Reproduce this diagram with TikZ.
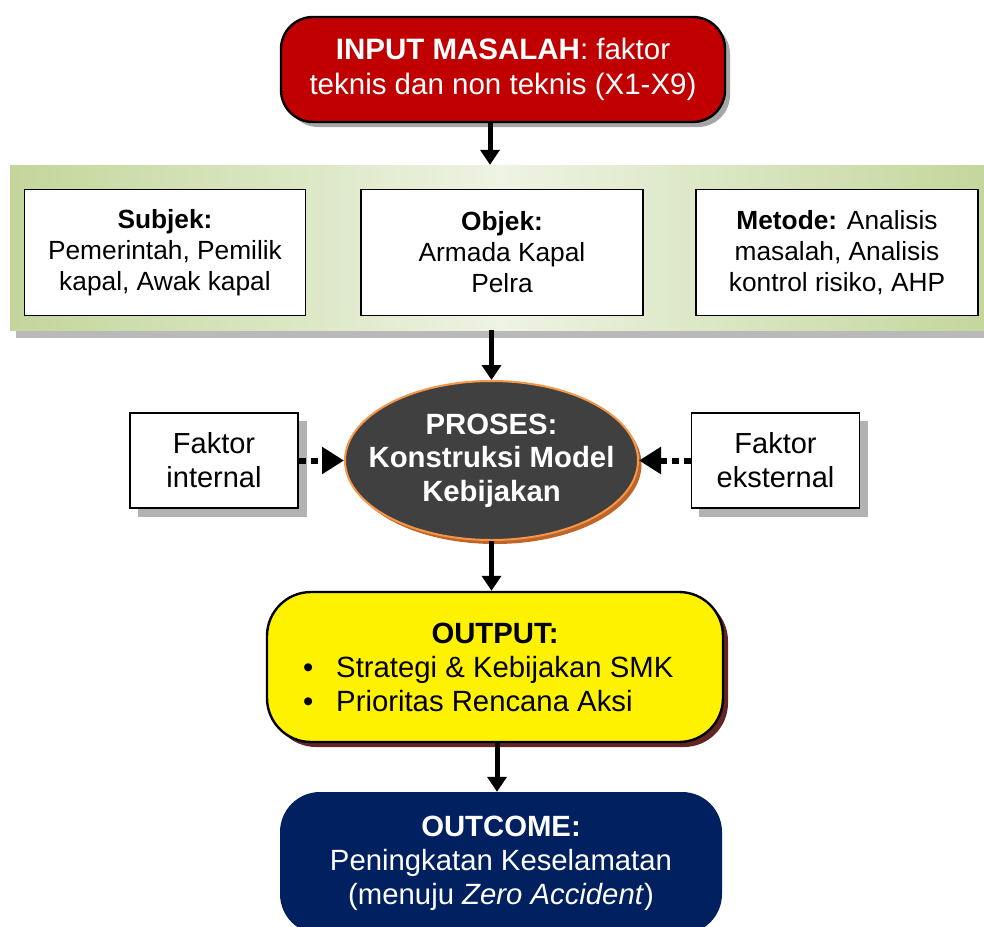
\documentclass[tikz,border=0pt]{standalone}
\usepackage{fontspec}
\setmainfont{Liberation Sans}
\usetikzlibrary{shapes.geometric,arrows.meta}
\definecolor{inred}{HTML}{C00000}
\definecolor{navy}{HTML}{002060}
\definecolor{bandedge}{HTML}{C3D69B}
\definecolor{bandmid}{HTML}{EEF3E3}
\definecolor{ringorange}{HTML}{F79646}
\definecolor{ringshadow}{HTML}{C0652A}
\definecolor{procfill}{HTML}{404040}
\definecolor{outshadow}{HTML}{632523}
\begin{document}
\begin{tikzpicture}[x=1pt,y=-1pt,
  txt/.style={align=center,inner sep=0pt,font=\fontsize{29.3}{34}\selectfont},
  rbox/.style={txt,rounded corners=32pt,line width=2.4pt,draw=black},
  wbox/.style={txt,draw=black,line width=1.2pt,fill=white,font=\fontsize{26.3}{31}\selectfont},
  arr/.style={line width=5pt,-{Triangle[width=19pt,length=15pt]}},
  darr/.style={line width=6pt,dash pattern=on 7pt off 5pt,-{Triangle[width=26pt,length=22pt]}}
]
\useasboundingbox (0,0) rectangle (984,926);

% problem input
\fill[gray!70,rounded corners=32pt] (286,22) rectangle (730,127);
\node[rbox,fill=inred,text=white,minimum width=444pt,minimum height=105pt,
      font=\fontsize{29.5}{35}\selectfont] (input) at (503,69.5)
  {\textbf{INPUT MASALAH}: faktor\\teknis dan non teknis (X1-X9)};

% green band holding subject, object and method
\fill[gray!55] (16,172) rectangle (1000,338);
\node[minimum width=984pt,minimum height=165pt,inner sep=0pt,
      left color=bandedge,right color=bandedge,middle color=bandmid] (band) at (502,247.5) {};
\node[wbox,minimum width=281pt,minimum height=126pt] (subj) at (165,252.5)
  {\textbf{Subjek:}\\Pemerintah, Pemilik\\kapal, Awak kapal};
\node[wbox,minimum width=282pt,minimum height=126pt] (obj) at (502,252.5)
  {\textbf{Objek:}\\Armada Kapal\\Pelra};
\node[wbox,minimum width=282pt,minimum height=126pt] (meth) at (837,252.5)
  {\textbf{Metode:} Analisis\\masalah, Analisis\\kontrol risiko, AHP};

% process ellipse and its label
\fill[ringshadow] (495,464.5) ellipse[x radius=146.5pt,y radius=79.5pt];
\node[ellipse,draw=ringorange,line width=2pt,fill=procfill,
      minimum width=293pt,minimum height=159pt,inner sep=0pt] (proc) at (491.5,460.5) {};
\node[txt,text=white,font=\bfseries\fontsize{29.3}{33.5}\selectfont] (proctext) at (proc.center)
  {PROSES:\\Konstruksi Model\\Kebijakan};

% internal and external factors
\fill[gray!60] (138,421) rectangle (307,517);
\fill[gray!60] (699,421) rectangle (868,517);
\node[wbox,minimum width=168pt,minimum height=95pt,font=\fontsize{29}{34}\selectfont] (fint) at (214,460.5)
  {Faktor\\internal};
\node[wbox,minimum width=168pt,minimum height=95pt,font=\fontsize{29}{34}\selectfont] (fext) at (775.5,460.5)
  {Faktor\\eksternal};

% output
\fill[outshadow,rounded corners=44pt] (272,597) rectangle (728,747);
\node[rbox,rounded corners=44pt,fill=yellow,minimum width=456pt,minimum height=150pt] (outp) at (495,667)
  {\textbf{OUTPUT:}\\
   \makebox[390pt][l]{\hspace{3pt}\textbullet\hspace{23pt}Strategi \& Kebijakan SMK}\\
   \makebox[390pt][l]{\hspace{3pt}\textbullet\hspace{23pt}Prioritas Rencana Aksi}};

% outcome
\node[txt,rounded corners=40pt,fill=navy,text=white,minimum width=442pt,minimum height=142pt] (outc) at (501,863)
  {\textbf{OUTCOME:}\\Peningkatan Keselamatan\\(menuju \textit{Zero Accident})};

% connectors
\draw[arr] ([xshift=-13pt]input.south) -- ([xshift=-12pt]band.north);
\draw[arr] (band.south -| proc.north) -- (proc.north);
\draw[arr] (proc.south) -- (outp.north -| proc.south);
\draw[arr] ([xshift=2pt]outp.south) -- ([xshift=-4pt]outc.north);
\draw[darr] (fint.east) -- (proc.west);
\draw[darr] (fext.west) -- (proc.east);
\end{tikzpicture}
\end{document}
